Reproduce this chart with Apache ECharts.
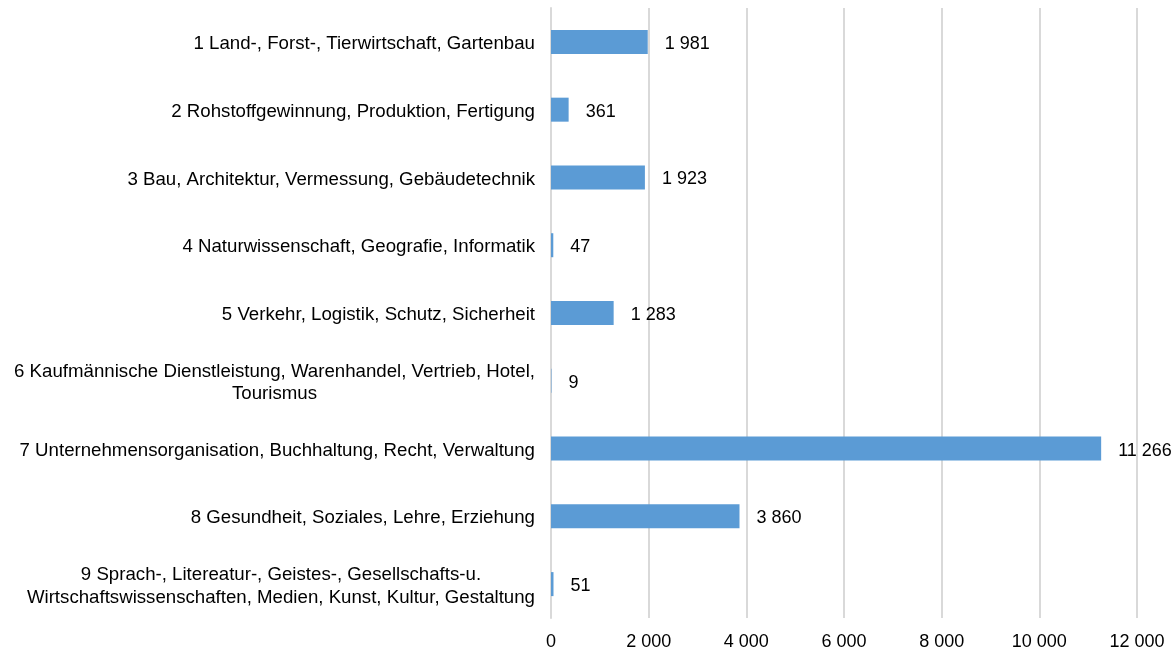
<!DOCTYPE html>
<html>
<head>
<meta charset="utf-8">
<script src="https://cdn.jsdelivr.net/npm/echarts@6/dist/echarts.min.js"></script>
<style>
  html, body { margin: 0; padding: 0; background: #fff; }
  #chart { width: 1176px; height: 651px; }
</style>
</head>
<body>
<div id="chart"></div>
<script>
// Occupational fields (lines separated by \n)
const categories = [
  '1 Land-, Forst-, Tierwirtschaft, Gartenbau',
  '2 Rohstoffgewinnung, Produktion, Fertigung',
  '3 Bau, Architektur, Vermessung, Gebäudetechnik',
  '4 Naturwissenschaft, Geografie, Informatik',
  '5 Verkehr, Logistik, Schutz, Sicherheit',
  '6 Kaufmännische Dienstleistung, Warenhandel, Vertrieb, Hotel,\nTourismus',
  '7 Unternehmensorganisation, Buchhaltung, Recht, Verwaltung',
  '8 Gesundheit, Soziales, Lehre, Erziehung',
  '9 Sprach-, Litereatur-, Geistes-, Gesellschafts-u.\nWirtschaftswissenschaften, Medien, Kunst, Kultur, Gestaltung'
];
const values = [1981, 361, 1923, 47, 1283, 9, 11266, 3860, 51];
const xTicks = [0, 2000, 4000, 6000, 8000, 10000, 12000];

// German-style thousands grouping with a space
function fmt(v) {
  return String(v).replace(/\B(?=(\d{3})+(?!\d))/g, ' ');
}

const chart = echarts.init(document.getElementById('chart'));
const font = 'Liberation Sans, Arial, sans-serif';

chart.setOption({
  animation: false,
  grid: { left: 551, right: 39, top: 8, bottom: 32, containLabel: false },
  xAxis: {
    type: 'value',
    min: xTicks[0],
    max: xTicks[xTicks.length - 1],
    interval: xTicks[1] - xTicks[0],
    axisLine: { show: false },
    axisTick: { show: false },
    axisLabel: {
      color: '#000', fontSize: 18, fontFamily: font, margin: 15,
      formatter: v => fmt(v)
    },
    splitLine: { show: true, lineStyle: { color: '#d9d9d9', width: 2 } }
  },
  yAxis: {
    type: 'category',
    data: categories,
    inverse: true,
    axisLine: { show: true, lineStyle: { color: '#d9d9d9', width: 2 } },
    axisTick: { show: false },
    axisLabel: {
      margin: 16,
      padding: [4, 0, 0, 0],
      fontSize: 18.67, fontFamily: font, color: '#000',
      formatter: v => v.split('\n').map(s => '{c|' + s + '}').join('\n'),
      rich: {
        c: { align: 'center', fontSize: 18.67, fontFamily: font, color: '#000', lineHeight: 22.5 }
      }
    }
  },
  series: [{
    type: 'bar',
    data: values,
    barWidth: 24,
    itemStyle: { color: '#5b9bd5' },
    label: {
      show: true,
      position: 'right',
      distance: 17,
      offset: [0, 2],
      color: '#000',
      fontSize: 18,
      fontFamily: font,
      formatter: p => fmt(p.value)
    }
  }]
});
</script>
</body>
</html>
